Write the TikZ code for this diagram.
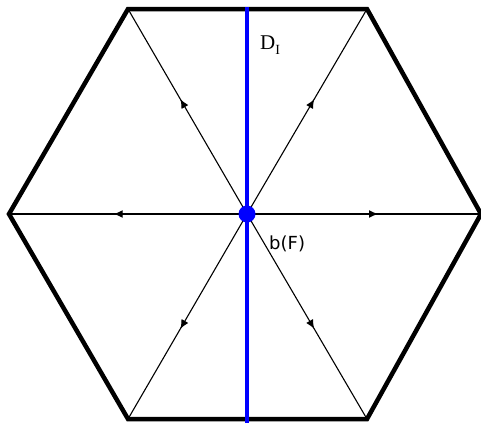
\documentclass[tikz,border=0pt]{standalone}
\usepackage{fontspec}
\newfontfamily\djv{DejaVu Sans}
\newfontfamily\lser{Liberation Serif}
\usetikzlibrary{decorations.markings,arrows.meta}
\begin{document}
\begin{tikzpicture}[x=1pt,y=-1pt,
  spoke/.style={line width=1.1pt,postaction={decorate},decoration={markings,mark=at position 0.56 with {\arrow{Latex[length=9pt,width=8pt]}}}},
  hexedge/.style={line width=4.5pt,line join=miter}]
\useasboundingbox (0,0) rectangle (481,423);
\coordinate (c) at (247,214);
\coordinate (v1) at (128,9);
\coordinate (v2) at (367,9);
\coordinate (v3) at (481,214);
\coordinate (v4) at (367,419);
\coordinate (v5) at (128,419);
\coordinate (v6) at (9,214);
\coordinate (bot) at (247,423);
\foreach \v in {v1,v2,v3,v4,v5,v6} \draw[spoke] (c) -- (\v);
\draw[hexedge] (v1) -- (v2) -- (v3) -- (v4) -- (v5) -- (v6) -- cycle;
\draw[blue, line width=4pt] (247,7) -- (bot);
\fill[blue] (c) circle (8.5);
\node[anchor=base west, inner sep=0pt, font=\lser\fontsize{21}{21}\selectfont] (d) at (260,49) {D\raisebox{-0.25em}{\fontsize{14}{14}\selectfont I}};
\node[anchor=base west, inner sep=0pt, font=\djv\fontsize{18}{18}\selectfont] (b) at (269,249) {b(F)};
\end{tikzpicture}
\end{document}
